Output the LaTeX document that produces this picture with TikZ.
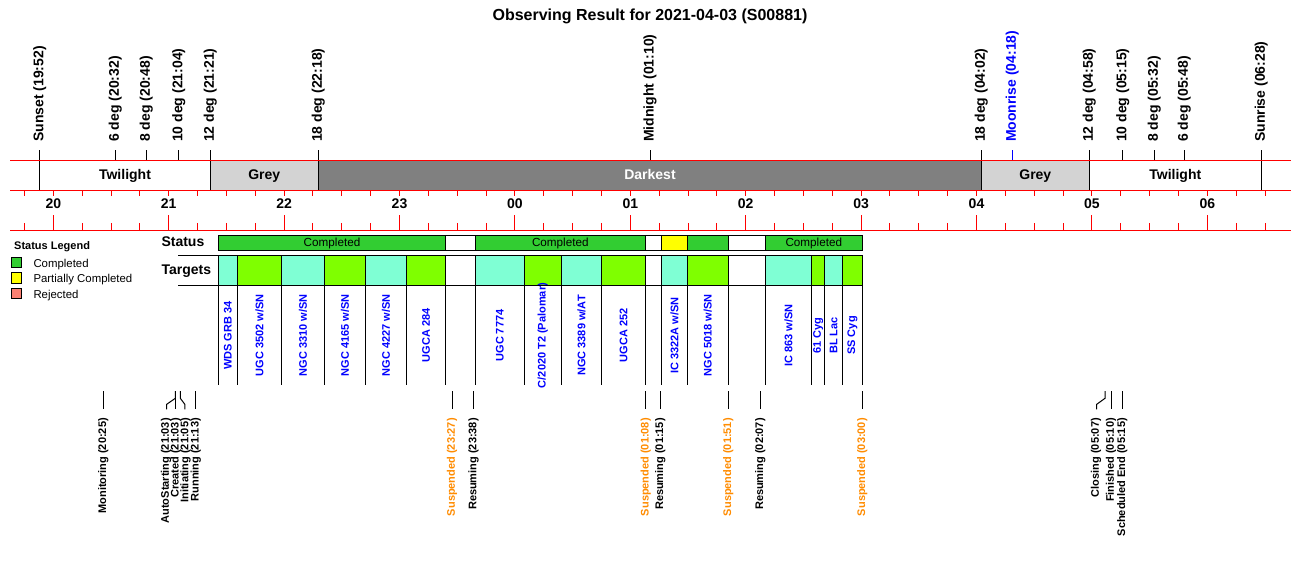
\documentclass[tikz,border=0pt]{standalone}
\usepackage{fontspec}
\setmainfont{Liberation Sans}
\definecolor{lgreen}{HTML}{32CD32}
\definecolor{aqua}{HTML}{7FFFD4}
\definecolor{chart}{HTML}{7FFF00}
\definecolor{lgrey}{HTML}{D3D3D3}
\definecolor{dgrey}{HTML}{808080}
\definecolor{salm}{HTML}{FA8072}
\definecolor{orng}{HTML}{FF8C00}
\definecolor{yel}{HTML}{FFFF00}
\newcommand{\tgtcell}[5]{%
  \filldraw[fill=#4, draw=black, line width=1pt] (#2,255.7) rectangle (#3,285.3);
  \draw[line width=1pt] (#2,285.3) -- (#2,385);
  \draw[line width=1pt] (#3,285.3) -- (#3,385);
  \node[tgtlab] (#1) at ({(#2+#3)/2},335.5) {#5};
}
\begin{document}
\begin{tikzpicture}[x=1pt,y=-1pt,
  toplab/.style={rotate=90, anchor=west, inner sep=0pt, font=\fontsize{14}{14}\selectfont\bfseries},
  botlab/.style={rotate=90, anchor=east, inner sep=0pt, font=\fontsize{11}{11}\selectfont\bfseries},
  tgtlab/.style={rotate=90, inner sep=0pt, text=blue, font=\fontsize{11}{11}\selectfont\bfseries},
  bandlab/.style={anchor=base, inner sep=0pt, font=\fontsize{14}{14}\selectfont\bfseries},
  hourlab/.style={anchor=base, inner sep=0pt, font=\fontsize{14}{14}\selectfont\bfseries},
  barlab/.style={anchor=base, inner sep=0pt, font=\fontsize{11.7}{12}\selectfont},
  leglab/.style={anchor=base west, inner sep=0pt, font=\fontsize{11.4}{12}\selectfont},
  rowlab/.style={anchor=base west, inner sep=0pt, font=\fontsize{14}{14}\selectfont\bfseries},
  redline/.style={draw=red, line width=1pt},
  blk/.style={draw=black, line width=1pt},
  evline/.style={draw=black, line width=1pt}
]
\useasboundingbox (0,0) rectangle (1300,560);
\fill[white] (0,0) rectangle (1300,560);

% title
\node[anchor=base, inner sep=0pt, font=\fontsize{16}{16}\selectfont\bfseries] (title) at (650,20) {Observing Result for 2021-04-03 (S00881)};

% band fills
\fill[white] (10,160) rectangle (210.3,190.3);
\fill[lgrey] (210.3,160) rectangle (318.3,190.3);
\fill[dgrey] (318.3,160) rectangle (981.3,190.3);
\fill[lgrey] (981.3,160) rectangle (1089.3,190.3);
\fill[white] (1089.3,160) rectangle (1291,190.3);

% band labels
\node[bandlab] (tw1) at (125,179.5) {Twilight};
\node[bandlab] (gr1) at (264.3,179.5) {Grey};
\node[bandlab, text=white] (dk) at (650,179.5) {Darkest};
\node[bandlab] (gr2) at (1035.3,179.5) {Grey};
\node[bandlab] (tw2) at (1175.3,179.5) {Twilight};

% long black lines through band
\foreach \x in {39.7,210.3,318.3,981.3,1089.3,1261.3} \draw[blk] (\x,150) -- (\x,190.3);
% short ticks above band
\foreach \x in {115.3,146.3,178.7,650,1122.7,1154.3,1184.3} \draw[blk] (\x,150) -- (\x,160);
\draw[draw=blue, line width=1pt] (1012.3,150) -- (1012.3,160);

% red axis lines
\draw[redline] (10,160) -- (1291,160);
\draw[redline] (10,190.3) -- (1291,190.3);
\draw[redline] (10,230) -- (1291,230);
\foreach \k in {-1,...,42} {
  \pgfmathsetmacro\xx{53.3+28.85*\k}
  \draw[redline] (\xx,190.3) -- (\xx,196);
  \draw[redline] (\xx,230) -- (\xx,222.7);
}
\foreach \lab [count=\i from 0] in {20,21,22,23,00,01,02,03,04,05,06} {
  \pgfmathsetmacro\xx{53.3+115.4*\i}
  \draw[redline] (\xx,230) -- (\xx,215);
  \node[hourlab] (h\i) at (\xx,208.7) {\lab};
}

% top labels
\node[toplab] (l1) at (39.7,142) {Sunset (19:52)};
\node[toplab] (l2) at (115.3,142) {6 deg (20:32)};
\node[toplab] (l3) at (146.3,142) {8 deg (20:48)};
\node[toplab] (l4) at (178.7,142) {10 deg (21:04)};
\node[toplab] (l5) at (210.3,142) {12 deg (21:21)};
\node[toplab] (l6) at (318.3,142) {18 deg (22:18)};
\node[toplab] (l7) at (650,142) {Midnight (01:10)};
\node[toplab] (l8) at (981.3,142) {18 deg (04:02)};
\node[toplab, text=blue] (l9) at (1012.3,142) {Moonrise (04:18)};
\node[toplab] (l10) at (1089.3,142) {12 deg (04:58)};
\node[toplab] (l11) at (1122.7,142) {10 deg (05:15)};
\node[toplab] (l12) at (1154.3,142) {8 deg (05:32)};
\node[toplab] (l13) at (1184.3,142) {6 deg (05:48)};
\node[toplab] (l14) at (1261.3,142) {Sunrise (06:28)};

% legend
\node[anchor=base west, inner sep=0pt, font=\fontsize{11}{11}\selectfont\bfseries] (legt) at (14,249.7) {Status Legend};
\filldraw[fill=lgreen, blk] (11,257) rectangle (21.7,267.3);
\filldraw[fill=yel, blk] (11,272.7) rectangle (21.7,283);
\filldraw[fill=salm, blk] (11,288.3) rectangle (21.7,298.3);
\node[leglab] (lg1) at (33.3,267.5) {Completed};
\node[leglab] (lg2) at (33.3,282.8) {Partially Completed};
\node[leglab] (lg3) at (33.3,298.2) {Rejected};

% row labels
\node[rowlab] (stl) at (161.3,246) {Status};
\node[rowlab] (tgl) at (161.3,274.3) {Targets};

% status bar
\filldraw[fill=lgreen, blk] (218.3,235.7) rectangle (445.7,250.3);
\filldraw[fill=white, blk] (445.7,235.7) rectangle (475.3,250.3);
\filldraw[fill=lgreen, blk] (475.3,235.7) rectangle (645.3,250.3);
\filldraw[fill=white, blk] (645.3,235.7) rectangle (661.5,250.3);
\filldraw[fill=yel, blk] (661.5,235.7) rectangle (687.3,250.3);
\filldraw[fill=lgreen, blk] (687.3,235.7) rectangle (728.3,250.3);
\filldraw[fill=white, blk] (728.3,235.7) rectangle (765.3,250.3);
\filldraw[fill=lgreen, blk] (765.3,235.7) rectangle (862.3,250.3);
\node[barlab] (s1) at (332,246) {Completed};
\node[barlab] (s2) at (560.3,246) {Completed};
\node[barlab] (s3) at (813.8,246) {Completed};

% targets
\tgtcell{c1}{218.3}{237.3}{aqua}{WDS GRB 34}
\tgtcell{c2}{237.3}{281.7}{chart}{UGC 3502 w/SN}
\tgtcell{c3}{281.7}{324.3}{aqua}{NGC 3310 w/SN}
\tgtcell{c4}{324.3}{365.7}{chart}{NGC 4165 w/SN}
\tgtcell{c5}{365.7}{406.3}{aqua}{NGC 4227 w/SN}
\tgtcell{c6}{406.3}{445.7}{chart}{UGCA 284}
\tgtcell{c7}{445.7}{475.3}{white}{}
\tgtcell{c8}{475.3}{524.3}{aqua}{UGC 7774}
\tgtcell{c9}{524.3}{561.3}{chart}{C/2020 T2 (Palomar)}
\tgtcell{c10}{561.3}{601.7}{aqua}{NGC 3389 w/AT}
\tgtcell{c11}{601.7}{645.3}{chart}{UGCA 252}
\tgtcell{c12}{645.3}{661.5}{white}{}
\tgtcell{c13}{661.5}{687.3}{aqua}{IC 3322A w/SN}
\tgtcell{c14}{687.3}{728.3}{chart}{NGC 5018 w/SN}
\tgtcell{c15}{728.3}{765.3}{white}{}
\tgtcell{c16}{765.3}{811.7}{aqua}{IC 863 w/SN}
\tgtcell{c17}{811.7}{824.7}{chart}{61 Cyg}
\tgtcell{c18}{824.7}{842.7}{aqua}{BL Lac}
\tgtcell{c19}{842.7}{862.3}{chart}{SS Cyg}
\draw[blk] (178,255.7) -- (862.3,255.7);
\draw[blk] (178,285.3) -- (862.3,285.3);

% events
\draw[evline] (103.3,391) -- (103.3,409.3);
\node[botlab] (e1) at (103.3,418) {Monitoring (20:25)};
\draw[evline] (175.3,391) -- (175.3,398.3) -- (166.7,404.3) -- (166.7,409.3);
\node[botlab] (e2) at (166,418) {AutoStarting (21:03)};
\draw[evline] (175.3,391) -- (175.3,409.3);
\node[botlab] (e3) at (175.7,418) {Created (21:03)};
\draw[evline] (180.3,391) -- (180.3,398.3) -- (184.8,404.3) -- (184.8,409.3);
\node[botlab] (e4) at (185.5,418) {Initiating (21:05)};
\draw[evline] (195.3,391) -- (195.3,409.3);
\node[botlab] (e5) at (195.7,418) {Running (21:13)};
\draw[evline] (452.3,391) -- (452.3,409.3);
\node[botlab, text=orng] (e6) at (452,418) {Suspended (23:27)};
\draw[evline] (473.5,391) -- (473.5,409.3);
\node[botlab] (e7) at (473.5,418) {Resuming (23:38)};
\draw[evline] (645.7,391) -- (645.7,409.3);
\node[botlab, text=orng] (e8) at (645.7,418) {Suspended (01:08)};
\draw[evline] (660.3,391) -- (660.3,409.3);
\node[botlab] (e9) at (660.3,418) {Resuming (01:15)};
\draw[evline] (728.3,391) -- (728.3,409.3);
\node[botlab, text=orng] (e10) at (728.3,418) {Suspended (01:51)};
\draw[evline] (760.3,391) -- (760.3,409.3);
\node[botlab] (e11) at (760.3,418) {Resuming (02:07)};
\draw[evline] (862.3,391) -- (862.3,409.3);
\node[botlab, text=orng] (e12) at (862.3,418) {Suspended (03:00)};
\draw[evline] (1105,391) -- (1105,398.3) -- (1096.7,404.3) -- (1096.7,409.3);
\node[botlab] (e13) at (1096,418) {Closing (05:07)};
\draw[evline] (1111,391) -- (1111,409.3);
\node[botlab] (e14) at (1111,418) {Finished (05:10)};
\draw[evline] (1122.3,391) -- (1122.3,409.3);
\node[botlab] (e15) at (1122.3,418) {Scheduled End (05:15)};
\end{tikzpicture}
\end{document}
